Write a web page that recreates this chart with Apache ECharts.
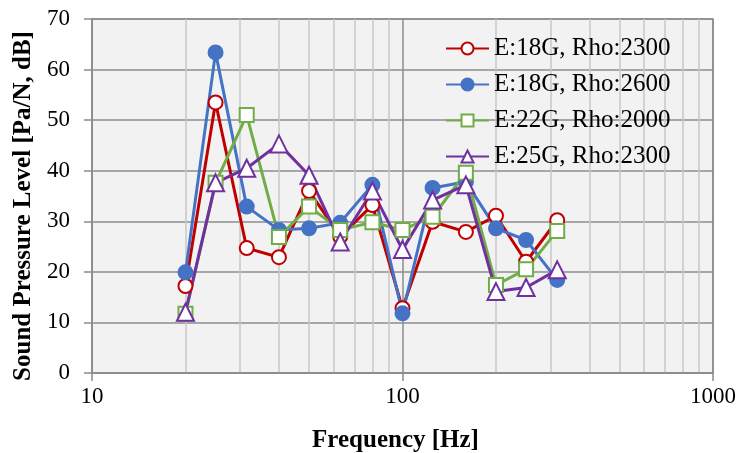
<!DOCTYPE html>
<html>
<head>
<meta charset="utf-8">
<script src="https://cdn.jsdelivr.net/npm/echarts@6/dist/echarts.min.js"></script>
<style>
  html, body { margin: 0; padding: 0; background: #fff; }
  #chart { width: 743px; height: 453px; }
</style>
</head>
<body>
<div id="chart"></div>
<script>
const freqs = [20, 25, 31.5, 40, 50, 63, 80, 100, 125, 160, 200, 250, 315];
const e18r2300 = [17.2, 53.5, 24.7, 22.9, 36.0, 27.0, 33.2, 12.8, 29.9, 27.9, 31.1, 22.0, 30.2];
const e18r2600 = [19.9, 63.4, 32.9, 28.3, 28.6, 29.7, 37.2, 11.8, 36.6, 37.8, 28.6, 26.3, 18.4];
const e22r2000 = [11.7, 37.6, 51.0, 26.9, 32.9, 28.3, 29.8, 28.3, 30.9, 39.6, 17.4, 20.5, 28.1];
const e25r2300 = [12.0, 37.6, 40.5, 45.3, 39.1, 25.9, 36.0, 24.4, 34.2, 37.2, 16.1, 16.9, 20.4];
const seriesNames = ['E:18G, Rho:2300', 'E:18G, Rho:2600', 'E:22G, Rho:2000', 'E:25G, Rho:2300'];
const yTicks = [0, 10, 20, 30, 40, 50, 60, 70];

const font = 'Liberation Serif, Times New Roman, serif';
const pair = vals => freqs.map((f, i) => [f, vals[i]]);

const mk = (name, vals, color, symbol, filled) => ({
  name,
  type: 'line',
  data: pair(vals),
  symbol,
  symbolSize: symbol === 'triangle' ? 17 : 14,
  lineStyle: { color, width: 3 },
  itemStyle: { color: filled ? color : '#fff', borderColor: color, borderWidth: 2 },
  emphasis: { disabled: true },
  z: 3
});

const chart = echarts.init(document.getElementById('chart'));
chart.setOption({
  animation: false,
  backgroundColor: '#fff',
  grid: {
    left: 92, right: 30, top: 19, bottom: 80, outerBoundsMode: 'none', containLabel: false,
    show: true, backgroundColor: '#f2f2f2', borderColor: '#8c8c8c', borderWidth: 1.5
  },
  legend: {
    left: 440, top: 31, orient: 'vertical', itemGap: 11, itemWidth: 43, itemHeight: 15,
    textStyle: { fontFamily: font, fontSize: 25, lineHeight: 25, color: '#000' },
    data: seriesNames
  },
  xAxis: {
    type: 'log', logBase: 10, min: 10, max: 1000,
    name: 'Frequency [Hz]', nameLocation: 'middle', nameGap: 55,
    nameTextStyle: { fontFamily: font, fontSize: 25, fontWeight: 'bold', color: '#000', padding: [0, 14, 0, 0] },
    axisLine: { lineStyle: { color: '#8c8c8c', width: 1.5 } },
    axisTick: { show: true, length: 8, lineStyle: { color: '#8c8c8c', width: 1.5 } },
    axisLabel: { fontFamily: font, fontSize: 23, color: '#000', margin: 12, formatter: v => String(v) },
    splitLine: { show: true, lineStyle: { color: '#8c8c8c', width: 1.5 } },
    minorTick: { show: false, splitNumber: 9 },
    minorSplitLine: { show: true, lineStyle: { color: '#c8c8c8', width: 1.5 } }
  },
  yAxis: {
    type: 'value', min: yTicks[0], max: yTicks[yTicks.length - 1], interval: 10,
    name: 'Sound Pressure Level [Pa/N, dB]', nameLocation: 'middle', nameGap: 54,
    nameTextStyle: { fontFamily: font, fontSize: 25, fontWeight: 'bold', color: '#000', padding: [0, 20, 0, 0] },
    axisLine: { show: true, lineStyle: { color: '#8c8c8c', width: 1.5 } },
    axisTick: { show: true, length: 8, lineStyle: { color: '#8c8c8c', width: 1.5 } },
    axisLabel: { fontFamily: font, fontSize: 23, color: '#000', margin: 22 },
    splitLine: { show: true, lineStyle: { color: '#8c8c8c', width: 1.5 } }
  },
  series: [
    mk(seriesNames[0], e18r2300, '#c00000', 'circle', false),
    mk(seriesNames[1], e18r2600, '#4472c4', 'circle', true),
    mk(seriesNames[2], e22r2000, '#70ad47', 'rect', false),
    mk(seriesNames[3], e25r2300, '#7030a0', 'triangle', false)
  ]
});
</script>
</body>
</html>
